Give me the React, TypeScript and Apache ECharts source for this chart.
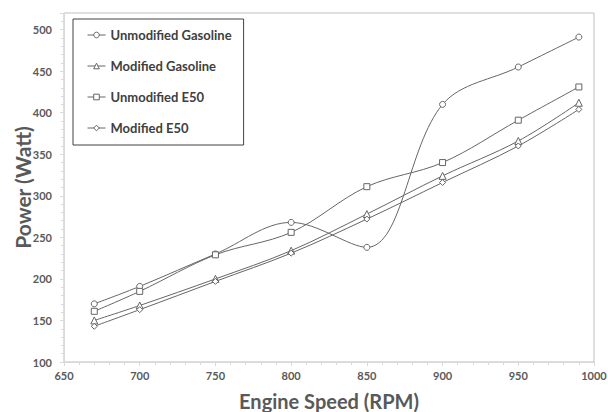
import React, { useEffect, useRef } from "react";
import * as echarts from "echarts";

const rpm = [670, 700, 750, 800, 850, 900, 950, 990];
const unmodifiedGasoline = [170, 191, 230, 268, 238, 410, 455, 491];
const modifiedGasoline = [150, 168, 200, 234, 278, 324, 366, 412];
const unmodifiedE50 = [161, 185, 229, 256, 311, 340, 391, 431];
const modifiedE50 = [143, 163, 197, 231, 272, 316, 360, 404];

const seriesNames = ["Unmodified Gasoline", "Modified Gasoline", "Unmodified E50", "Modified E50"];
const seriesSymbols = ["circle", "triangle", "rect", "diamond"];
const seriesValues = [unmodifiedGasoline, modifiedGasoline, unmodifiedE50, modifiedE50];

const FONT = "Lato, 'Open Sans', sans-serif";

export default function App() {
  const ref = useRef<HTMLDivElement>(null);
  useEffect(() => {
    if (!ref.current) return;
    document.body.style.margin = "0";
    const chart = echarts.init(ref.current, null, { renderer: "svg" });
    chart.setOption({
      animation: false,
      backgroundColor: "#ffffff",
      grid: {
        left: 64,
        right: 14,
        top: 13,
        bottom: 50,
        containLabel: false,
        outerBoundsMode: "none",
        show: true,
        borderColor: "#bfbfbf",
        borderWidth: 1,
      },
      legend: {
        orient: "vertical",
        left: 73,
        top: 19,
        padding: [9, 12, 10, 14],
        itemGap: 17,
        itemWidth: 18,
        itemHeight: 7,
        borderColor: "#404040",
        borderWidth: 1,
        backgroundColor: "#ffffff",
        textStyle: { fontFamily: FONT, fontWeight: "bold", fontSize: 13, color: "#404040", lineHeight: 14 },
        data: seriesNames,
        itemStyle: { borderWidth: 1 },
        lineStyle: { width: 1 },
      },
      xAxis: {
        type: "value",
        min: 650,
        max: 1000,
        interval: 50,
        name: "Engine Speed (RPM)",
        nameLocation: "middle",
        nameGap: 29,
        nameMoveOverlap: false,
        nameTextStyle: { fontFamily: FONT, fontWeight: "bold", fontSize: 20, color: "#595959" },
        axisLine: { show: true, lineStyle: { color: "#d9d9d9" } },
        axisTick: { show: true, length: 4, lineStyle: { color: "#d9d9d9" } },
        minorTick: { show: true, splitNumber: 5, length: 3, lineStyle: { color: "#d9d9d9" } },
        splitLine: { show: false },
        axisLabel: {
          fontFamily: FONT,
          fontWeight: "bold",
          fontSize: 11,
          color: "#595959",
          margin: 8,
          formatter: (v: number) => String(v),
        },
      },
      yAxis: {
        type: "value",
        min: 100,
        max: 520,
        interval: 50,
        name: "Power (Watt)",
        nameLocation: "middle",
        nameGap: 31,
        nameMoveOverlap: false,
        nameTextStyle: { fontFamily: FONT, fontWeight: "bold", fontSize: 21, color: "#595959" },
        axisLine: { show: true, lineStyle: { color: "#d9d9d9" } },
        axisTick: { show: true, length: 4, lineStyle: { color: "#d9d9d9" } },
        minorTick: { show: true, splitNumber: 5, length: 3, lineStyle: { color: "#d9d9d9" } },
        splitLine: { show: false },
        axisLabel: {
          fontFamily: FONT,
          fontWeight: "bold",
          fontSize: 11,
          color: "#595959",
          margin: 12,
          showMaxLabel: false,
          formatter: (v: number) => String(v),
        },
      },
      series: seriesNames.map((name, i) => ({
        name,
        type: "line",
        smooth: 0.35,
        symbol: seriesSymbols[i],
        symbolSize: i === 1 ? 7 : 6,
        showSymbol: true,
        itemStyle: { color: "#ffffff", borderColor: "#666666", borderWidth: 1 },
        lineStyle: { color: "#666666", width: 1 },
        data: rpm.map((x, j) => [x, seriesValues[i][j]]),
      })),
    });
    return () => chart.dispose();
  }, []);
  return <div ref={ref} style={{ width: 608, height: 412 }} />;
}
